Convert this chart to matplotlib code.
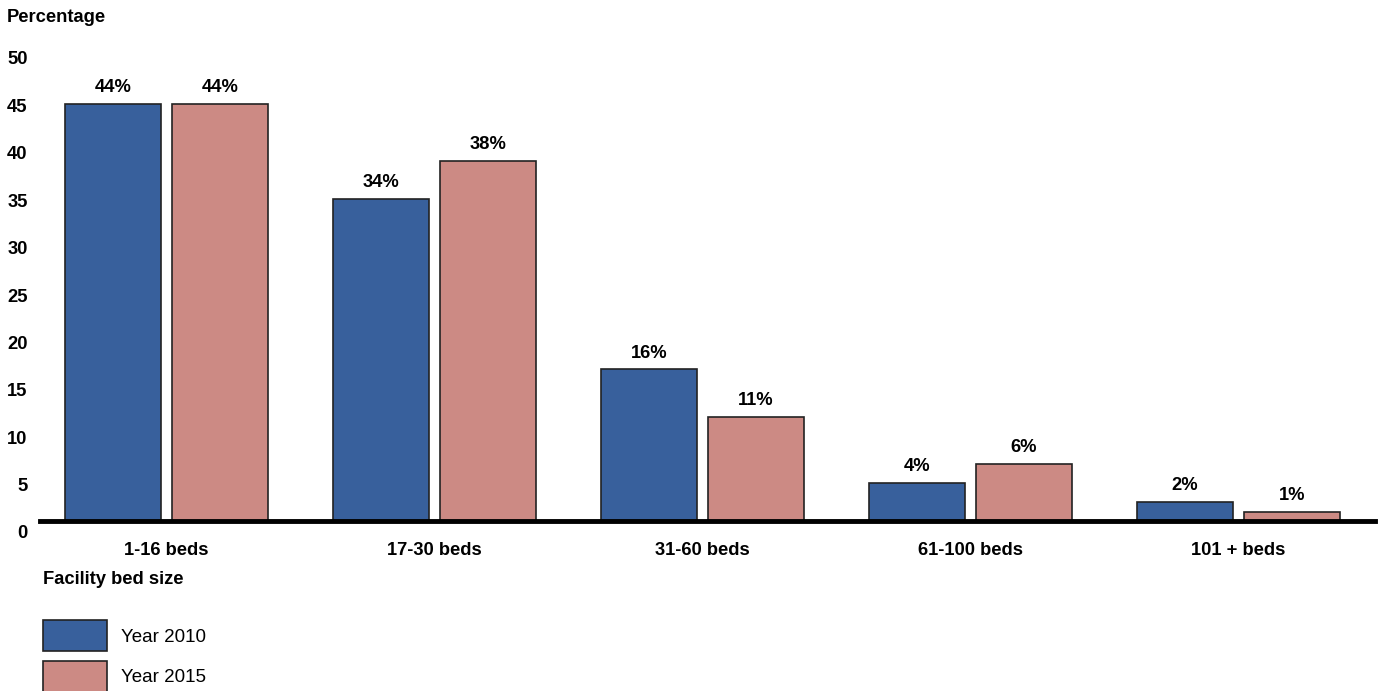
import numpy as np
import matplotlib.pyplot as plt
import matplotlib.transforms as mtransforms
from matplotlib.patches import Patch

plt.rcParams.update({
    "font.family": ["Liberation Sans", "DejaVu Sans"],
    "font.size": 13.2,
})

categories = ["1-16 beds", "17-30 beds", "31-60 beds", "61-100 beds", "101 + beds"]
year_2010 = [44, 34, 16, 4, 2]
year_2015 = [44, 38, 11, 6, 1]
series_names = ["Year 2010", "Year 2015"]
yticks = [0, 5, 10, 15, 20, 25, 30, 35, 40, 45, 50]

BLUE = "#38609c"
PINK = "#cc8a84"

W, H = 1380, 691
fig = plt.figure(figsize=(W / 100, H / 100), dpi=100)

# axes placed in pixel terms: baseline at y=521, 9.48 px per unit
px_per_unit = 9.48
base_y = 521
top_y = base_y - 50 * px_per_unit
left_x, right_x = 40, 1375
ax = fig.add_axes([left_x / W, (H - base_y) / H,
                   (right_x - left_x) / W, (base_y - top_y) / H])

x = np.arange(len(categories))
width = 0.358
off = 0.1996
b1 = ax.bar(x - off, year_2010, width, color=BLUE, edgecolor="#222222", linewidth=1.2, zorder=2)
b2 = ax.bar(x + off, year_2015, width, color=PINK, edgecolor="#222222", linewidth=1.2, zorder=2)

for bars, vals in ((b1, year_2010), (b2, year_2015)):
    for rect, v in zip(bars, vals):
        ax.annotate(f"{v}%", (rect.get_x() + rect.get_width() / 2, v),
                    xytext=(0, 5.5), textcoords="offset points",
                    ha="center", va="bottom", fontweight="bold")

ax.axhline(0, color="black", linewidth=3.5, zorder=3, clip_on=False)

ax.set_xlim((left_x - 166.5) / 268, (right_x - 166.5) / 268)
ax.set_ylim(0, 50)

# tick labels sit a little below their gridline values
ax.set_yticks(yticks)
ax.set_yticklabels([str(t) for t in yticks], fontweight="bold")
ax.tick_params(axis="y", length=0, pad=9)
shift = mtransforms.ScaledTranslation(0, -0.11, fig.dpi_scale_trans)
for lab in ax.get_yticklabels():
    lab.set_transform(lab.get_transform() + shift)

ax.set_xticks(x)
ax.set_xticklabels(categories, fontweight="bold")
ax.tick_params(axis="x", length=0, pad=15)

for s in ax.spines.values():
    s.set_visible(False)

fig.text(7 / W, 1 - 17 / H, "Percentage", fontweight="bold", ha="left", va="center")
fig.text(43 / W, 1 - 580 / H, "Facility bed size", fontweight="bold", ha="left", va="center")

handles = [Patch(facecolor=BLUE, edgecolor="#222222", linewidth=1.2),
           Patch(facecolor=PINK, edgecolor="#222222", linewidth=1.2)]
fig.legend(handles, series_names, loc="upper left",
           bbox_to_anchor=(43 / W, 1 - 620 / H), frameon=False,
           borderpad=0, borderaxespad=0, fontsize=13.5,
           handlelength=3.4, handleheight=2.2, labelspacing=0.5,
           handletextpad=0.75)

fig.savefig("out.png", dpi=100)
